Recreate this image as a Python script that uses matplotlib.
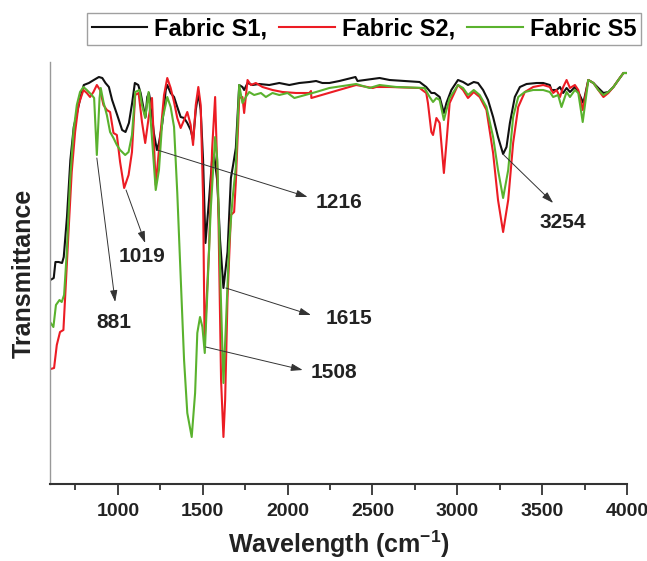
import matplotlib
matplotlib.use("Agg")
import matplotlib.pyplot as plt
from matplotlib.ticker import MultipleLocator

plt.rcParams['font.family'] = ['Liberation Sans', 'DejaVu Sans']
plt.rcParams['mathtext.fontset'] = 'custom'
plt.rcParams['mathtext.rm'] = 'Liberation Sans:bold'
plt.rcParams['mathtext.bf'] = 'Liberation Sans:bold'
plt.rcParams['mathtext.default'] = 'bf'

# ---------------- data (wavenumber cm^-1, transmittance a.u.) ----------------
s1_wn = [602, 622, 632, 651, 671, 681, 700, 720, 740, 759, 780, 799, 829, 858, 888, 908,
         927, 947, 966, 996, 1025, 1045, 1065, 1084, 1100, 1120, 1134, 1153, 1163, 1173,
         1183, 1193, 1212, 1230, 1242, 1262, 1282, 1291, 1311, 1331, 1350, 1370, 1390,
         1409, 1429, 1443, 1459, 1474, 1488, 1502, 1516, 1537, 1555, 1567, 1585, 1602,
         1622, 1646, 1666, 1679, 1695, 1715, 1734, 1744, 1764, 1793, 1833, 1892, 1951,
         2010, 2069, 2128, 2168, 2205, 2246, 2305, 2400, 2412, 2542, 2601, 2778, 2817,
         2847, 2866, 2896, 2921, 2936, 2965, 3004, 3034, 3063, 3097, 3122, 3152, 3181,
         3211, 3240, 3270, 3290, 3310, 3339, 3369, 3408, 3467, 3506, 3545, 3555, 3585,
         3605, 3624, 3644, 3664, 3693, 3713, 3743, 3772, 3802, 3831, 3861, 3890, 3920,
         3949, 3979, 3999]
s1_t = [204, 206, 222, 222, 221, 227, 267, 324, 357, 371, 387, 399, 401, 404, 407, 406,
        401, 397, 384, 369, 354, 352, 361, 381, 401, 399, 391, 374, 367, 387,
        391, 381, 351, 334, 341, 361, 394, 399, 391, 387, 377, 367, 366,
        361, 354, 344, 374, 391, 374, 324, 241, 284, 324, 329, 304, 244,
        196, 232, 306, 319, 336, 399, 397, 394, 401, 399, 400, 399, 401,
        399, 401, 402, 403, 401, 401, 403, 407, 403, 406, 404, 402, 397,
        391, 391, 387, 371, 381, 394, 404, 402, 399, 402, 401, 394, 384,
        367, 347, 330, 337, 361, 387, 397, 400, 401, 401, 399, 394, 394,
        397, 391, 396, 392, 397, 392, 381, 404, 401, 396, 391, 392, 397,
        404, 411, 411]

s2_wn = [604, 624, 640, 659, 679, 689, 709, 728, 748, 768, 797, 817, 836, 856, 876, 895,
         915, 935, 954, 974, 994, 1013, 1037, 1063, 1083, 1102, 1122, 1142, 1161, 1181,
         1201, 1223, 1252, 1272, 1291, 1311, 1331, 1350, 1370, 1390, 1409, 1429, 1443,
         1459, 1474, 1488, 1502, 1511, 1537, 1555, 1573, 1591, 1608, 1622, 1632, 1646,
         1666, 1685, 1695, 1715, 1734, 1744, 1764, 1784, 1813, 1852, 1911, 1970, 2050,
         2128, 2138, 2140, 2404, 2502, 2522, 2601, 2778, 2817, 2827, 2847, 2857, 2877,
         2896, 2921, 2936, 2955, 3004, 3034, 3063, 3097, 3132, 3172, 3211, 3240, 3270,
         3300, 3329, 3359, 3398, 3447, 3506, 3545, 3565, 3585, 3605, 3624, 3644, 3664,
         3693, 3713, 3739, 3772, 3802, 3831, 3861, 3890, 3920, 3949, 3979, 3999]
s2_t = [115, 116, 139, 152, 154, 186, 252, 312, 352, 379, 394, 391, 387, 392, 399, 394,
        379, 374, 372, 351, 349, 322, 296, 309, 332, 389, 391, 362, 341, 366,
        386, 299, 352, 389, 406, 396, 382, 366, 356, 364, 372, 359, 339,
        379, 397, 379, 286, 142, 234, 334, 387, 284, 104, 47, 84, 186,
        269, 272, 302, 386, 387, 371, 404, 399, 401, 397, 394, 392, 391,
        391, 393, 386, 399, 396, 397, 397, 396, 391, 381, 352, 349, 366,
        361, 311, 341, 381, 399, 394, 386, 392, 387, 374, 331, 284, 252,
        284, 341, 377, 392, 397, 399, 397, 391, 394, 387, 397, 404, 396,
        399, 394, 374, 404, 401, 394, 387, 391, 397, 404, 411, 411]

s5_wn = [604, 620, 635, 656, 669, 683, 699, 718, 738, 758, 777, 797, 817, 846, 860, 876,
         892, 899, 915, 935, 954, 974, 994, 1013, 1043, 1063, 1083, 1102, 1128, 1142,
         1161, 1181, 1203, 1223, 1242, 1262, 1291, 1311, 1331, 1350, 1370, 1390, 1409,
         1435, 1455, 1468, 1484, 1498, 1512, 1527, 1547, 1573, 1586, 1606, 1622, 1636,
         1656, 1675, 1695, 1715, 1734, 1754, 1774, 1803, 1843, 1872, 1911, 1951, 2000,
         2040, 2168, 2246, 2404, 2483, 2542, 2640, 2807, 2837, 2857, 2877, 2896, 2921,
         2936, 2955, 3004, 3034, 3063, 3097, 3132, 3172, 3211, 3240, 3270, 3300, 3329,
         3359, 3398, 3447, 3506, 3545, 3565, 3594, 3614, 3644, 3664, 3693, 3713, 3739,
         3772, 3802, 3831, 3861, 3890, 3920, 3949, 3979, 3999]
s5_t = [161, 157, 179, 184, 182, 189, 232, 302, 352, 379, 392, 397, 394, 389, 386, 329,
        386, 396, 382, 369, 352, 346, 339, 334, 329, 332, 349, 392, 394, 379,
        366, 392, 341, 294, 314, 364, 387, 377, 357, 291, 207, 124, 71,
        47, 91, 151, 167, 157, 131, 191, 274, 347, 324, 191, 101, 157,
        241, 284, 317, 399, 381, 387, 392, 389, 391, 387, 391, 389, 391,
        386, 392, 396, 400, 396, 399, 397, 396, 387, 382, 386, 384, 364,
        374, 386, 399, 396, 389, 394, 389, 377, 347, 314, 286, 314, 367,
        387, 392, 394, 394, 392, 387, 389, 377, 392, 387, 394, 391, 362,
        404, 401, 394, 389, 392, 397, 404, 411, 411]

series_labels = ["Fabric S1,", "Fabric S2,", "Fabric S5"]
series_colors = ["#111111", "#ec1c24", "#5ab22e"]

# peak annotations: label, point on curve, arrow head, label centre
peak_labels = ["881", "1019", "1216", "1615", "1508", "3254"]
peak_points = [(876, 326), (1048, 294), (1232, 334), (1636, 196), (1518, 137), (3274, 329)]
arrow_heads = [(984, 182), (1161, 241), (2118, 287), (2138, 169), (2089, 114), (3565, 281)]
label_pos = [(975, 162), (1142, 228), (2305, 281), (2364, 166), (2276, 112), (3624, 261)]

x_ticks = [1000, 1500, 2000, 2500, 3000, 3500, 4000]

# ---------------- figure ----------------
fig = plt.figure(figsize=(6.47, 5.61), dpi=100)
ax = fig.add_axes([50 / 647, 1 - 484 / 561, 577 / 647, 422 / 561])

lines = []
for wn, t, lab, col in zip([s1_wn, s2_wn, s5_wn], [s1_t, s2_t, s5_t], series_labels, series_colors):
    ln, = ax.plot(wn, t, color=col, lw=1.5, label=lab)
    lines.append(ln)
ax.set_xlim(600, 4000)
ax.set_ylim(0, 422)

for lab, pt, hd, lp in zip(peak_labels, peak_points, arrow_heads, label_pos):
    ax.annotate("", xy=hd, xytext=pt,
                arrowprops=dict(arrowstyle="-|>,head_length=0.7,head_width=0.22",
                                color="#333333", lw=0.7, shrinkA=0, shrinkB=0))
    ax.text(lp[0], lp[1], lab, ha="center", va="center", fontsize=15,
            fontweight="bold", color="#222222")

ax.spines['top'].set_visible(False)
ax.spines['right'].set_visible(False)
ax.spines['left'].set_color("#999999")
ax.spines['left'].set_linewidth(1.0)
ax.spines['bottom'].set_color("#333333")
ax.spines['bottom'].set_linewidth(1.5)
ax.set_yticks([])
ax.set_xticks(x_ticks)
ax.xaxis.set_minor_locator(MultipleLocator(250))
ax.tick_params(axis='x', which='major', direction='out', length=8, width=1.3,
               color="#333333", pad=6, labelsize=14)
ax.tick_params(axis='x', which='minor', direction='out', length=4, width=1.3,
               color="#333333")
for tl in ax.get_xticklabels():
    tl.set_fontweight("bold")
    tl.set_color("#222222")

ax.set_xlabel("Wavelength (cm$^{-1}$)", fontsize=18, fontweight="bold",
              color="#222222", labelpad=6)
ax.set_ylabel("Transmittance", fontsize=18, fontweight="bold", color="#222222",
              labelpad=10)

leg = fig.legend(handles=lines, labels=series_labels, loc="center",
                 bbox_to_anchor=(364 / 647, 1 - 29 / 561), ncol=3,
                 prop=dict(weight="bold", size=17), frameon=True, fancybox=False,
                 handlelength=2.35, handletextpad=0.3, columnspacing=0.5,
                 borderpad=0.2, borderaxespad=0)
leg.get_frame().set_edgecolor("#888888")
leg.get_frame().set_linewidth(1.0)

fig.savefig("out.png", dpi=100)
